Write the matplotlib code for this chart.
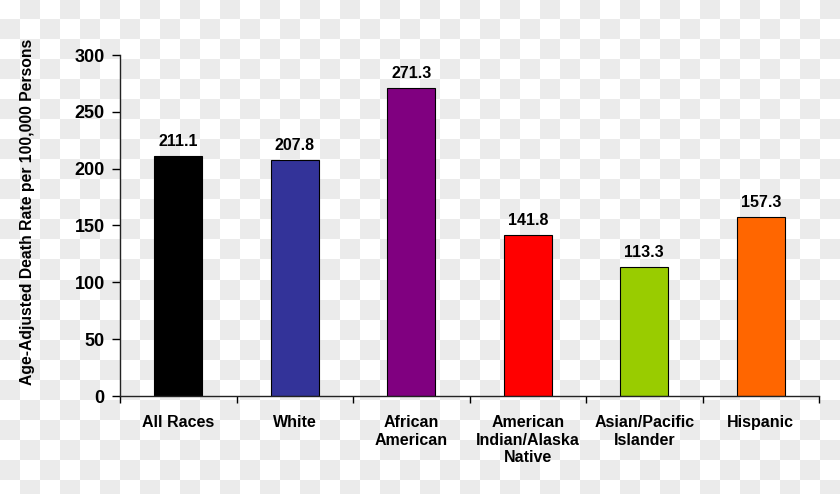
import numpy as np
import matplotlib
matplotlib.use("Agg")
import matplotlib.pyplot as plt

# data
groups = ["All Races", "White", "African\nAmerican", "American\nIndian/Alaska\nNative",
          "Asian/Pacific\nIslander", "Hispanic"]
rates = [211.1, 207.8, 271.3, 141.8, 113.3, 157.3]
colors = ["#000000", "#333399", "#800080", "#FF0000", "#99CC00", "#FF6600"]
yticks = [0, 50, 100, 150, 200, 250, 300]

plt.rcParams["font.family"] = ["Liberation Sans", "DejaVu Sans"]
plt.rcParams["font.weight"] = "bold"

W, H = 840, 494
fig = plt.figure(figsize=(W / 100, H / 100), dpi=100, facecolor="white")

# checkerboard backdrop (20 px squares)
bg = fig.add_axes([0, 0, 1, 1], zorder=0)
nr, nc = int(np.ceil(H / 20)), int(np.ceil(W / 20))
chk = (np.add.outer(np.arange(nr), np.arange(nc)) % 2).astype(float)
bg.imshow(chk, cmap=matplotlib.colors.ListedColormap(["#FFFFFF", "#EBEBEB"]),
          interpolation="nearest", extent=(0, nc * 20, nr * 20, 0), aspect="auto")
bg.set_xlim(0, W)
bg.set_ylim(H, 0)
bg.axis("off")

ax = fig.add_axes([120 / W, 1 - 396 / H, (819 - 120) / W, (396 - 55) / H], zorder=1)
ax.set_facecolor("none")

x = np.arange(len(groups))
bars = ax.bar(x, rates, width=0.41, color=colors, edgecolor="black", linewidth=0.8)
for b, v in zip(bars, rates):
    ax.annotate(f"{v:.1f}", (b.get_x() + b.get_width() / 2, v), xytext=(0, 5),
                textcoords="offset points", ha="center", va="bottom",
                fontsize=11.5, fontweight="bold")

ax.set_xlim(-0.5, len(groups) - 0.5)
ax.set_ylim(0, 300)
ax.set_yticks(yticks)
ax.set_yticklabels([str(t) for t in yticks], fontsize=13, fontweight="bold")
ax.set_xticks(x)
ax.set_xticklabels(groups, fontsize=11.5, fontweight="bold", linespacing=1.2)
ax.set_xticks(np.arange(-0.5, len(groups)), minor=True)
ax.tick_params(axis="x", which="major", length=0, pad=14)
ax.tick_params(axis="x", which="minor", length=5, width=1, direction="out")
ax.tick_params(axis="y", length=6, width=1, direction="out", pad=5)

for s in ["top", "right"]:
    ax.spines[s].set_visible(False)
for s in ["left", "bottom"]:
    ax.spines[s].set_linewidth(1)
    ax.spines[s].set_color("#222222")

ax.set_ylabel("Age-Adjusted Death Rate per 100,000 Persons", fontsize=11.3,
              fontweight="bold")
ax.yaxis.set_label_coords(-0.121, 0.54)

fig.savefig("out.png", dpi=100)
